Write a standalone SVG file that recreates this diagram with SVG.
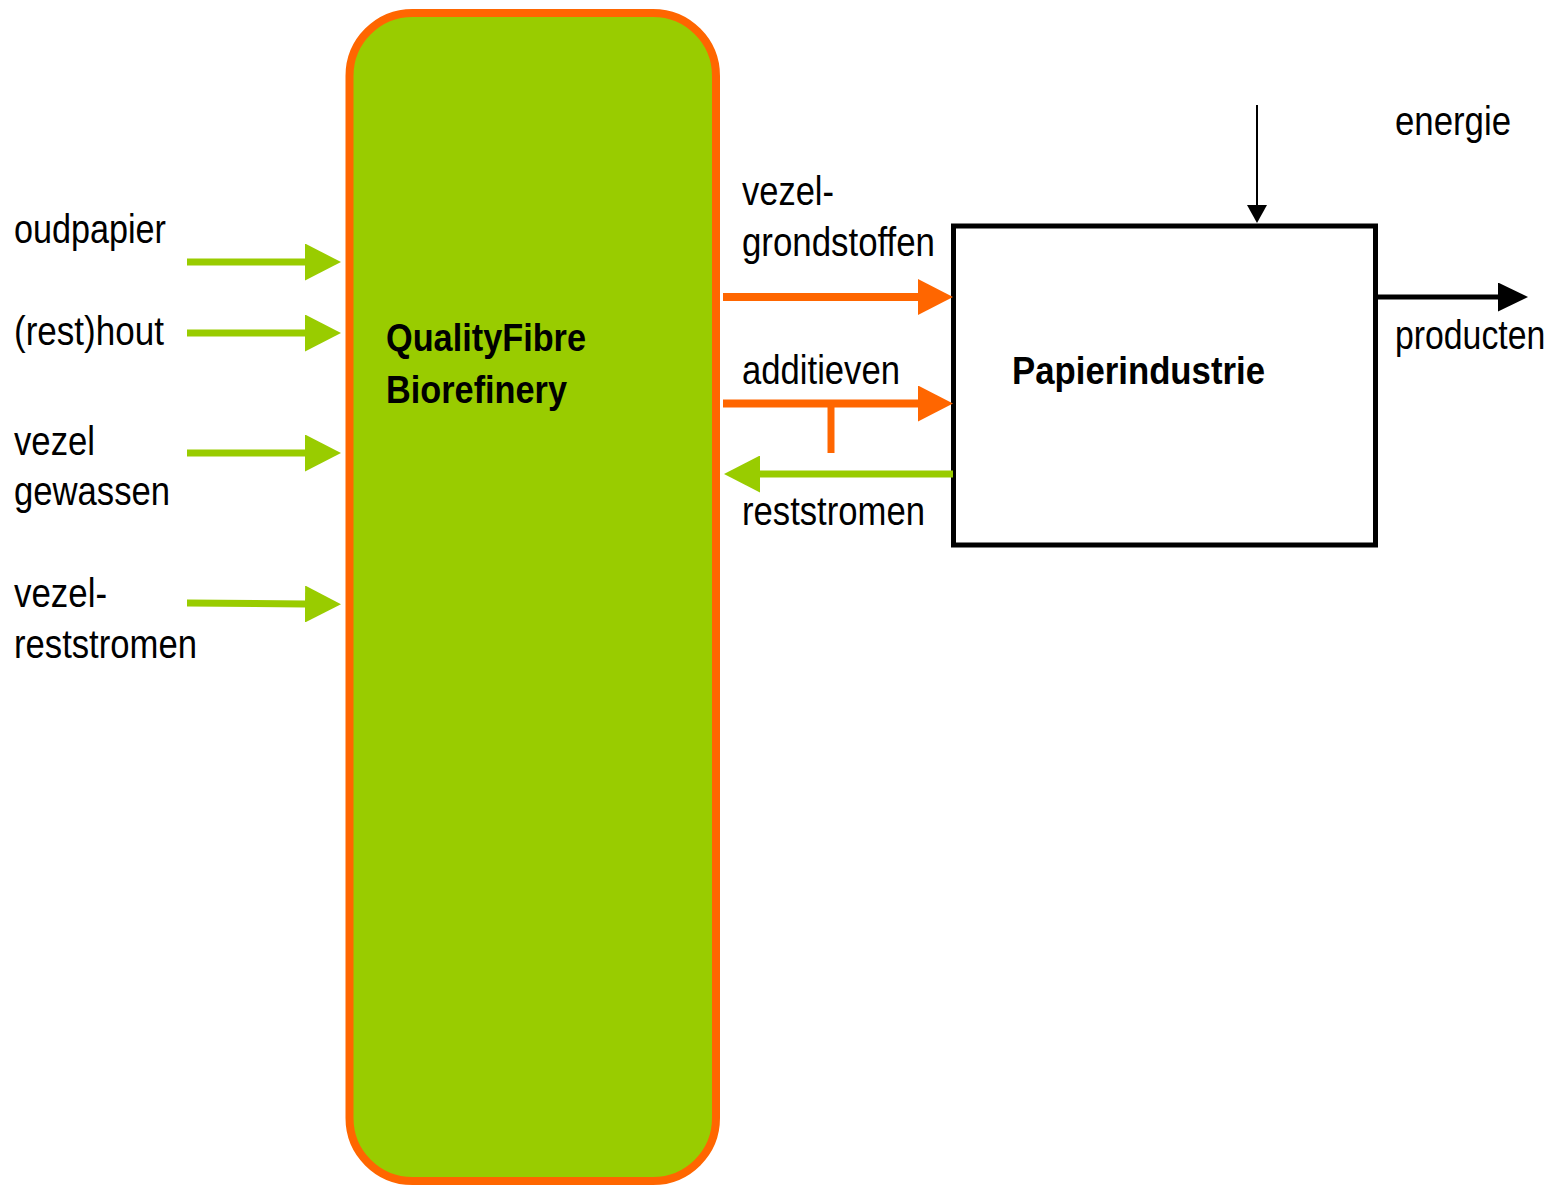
<svg xmlns="http://www.w3.org/2000/svg" width="1555" height="1185" viewBox="0 0 1555 1185">
<style>
  text { font-family: "Liberation Sans Narrow", "Liberation Sans", Arial, sans-serif; font-size: 40px; fill: #000; }
  .b { font-weight: bold; font-size: 39px; }
  .g { stroke: #99CC00; stroke-width: 7; fill: none; }
  .o { stroke: #FF6600; stroke-width: 8; fill: none; }
  .k { stroke: #000; fill: none; }
</style>
<defs>
  <marker id="hg" viewBox="0 -18.5 36 37" refX="0" refY="0" markerWidth="36" markerHeight="37" markerUnits="userSpaceOnUse" orient="auto">
    <path d="M0,-18.5 L36,0 L0,18.5 Z" fill="#99CC00"/>
  </marker>
  <marker id="ho" viewBox="0 -18 35 36" refX="0" refY="0" markerWidth="35" markerHeight="36" markerUnits="userSpaceOnUse" orient="auto">
    <path d="M0,-18 L35,0 L0,18 Z" fill="#FF6600"/>
  </marker>
  <marker id="hk" viewBox="0 -14.5 30 29" refX="0" refY="0" markerWidth="30" markerHeight="29" markerUnits="userSpaceOnUse" orient="auto">
    <path d="M0,-14.5 L30,0 L0,14.5 Z" fill="#000"/>
  </marker>
  <marker id="hks" viewBox="0 -10 18 20" refX="0" refY="0" markerWidth="18" markerHeight="20" markerUnits="userSpaceOnUse" orient="auto">
    <path d="M0,-10 L18,0 L0,10 Z" fill="#000"/>
  </marker>
</defs>

<g id="biorefinery">
  <rect x="349.5" y="13" width="366.5" height="1168" rx="63" ry="63" fill="#99CC00" stroke="#FF6600" stroke-width="8"/>
  <text class="b" x="386" y="351" textLength="200" lengthAdjust="spacingAndGlyphs">QualityFibre</text>
  <text class="b" x="386" y="403" textLength="181" lengthAdjust="spacingAndGlyphs">Biorefinery</text>
</g>

<g id="papierindustrie">
  <rect x="953.5" y="226" width="422" height="319" fill="#fff" stroke="#000" stroke-width="5"/>
  <text class="b" x="1012" y="384" textLength="253" lengthAdjust="spacingAndGlyphs">Papierindustrie</text>
</g>

<g id="labels">
  <text x="14" y="243" textLength="152" lengthAdjust="spacingAndGlyphs">oudpapier</text>
  <text x="14" y="345" textLength="150" lengthAdjust="spacingAndGlyphs">(rest)hout</text>
  <text x="14" y="455" textLength="81" lengthAdjust="spacingAndGlyphs">vezel</text>
  <text x="14" y="505" textLength="156" lengthAdjust="spacingAndGlyphs">gewassen</text>
  <text x="14" y="607" textLength="93" lengthAdjust="spacingAndGlyphs">vezel-</text>
  <text x="14" y="658" textLength="183" lengthAdjust="spacingAndGlyphs">reststromen</text>
  <text x="742" y="205" textLength="92" lengthAdjust="spacingAndGlyphs">vezel-</text>
  <text x="742" y="256" textLength="193" lengthAdjust="spacingAndGlyphs">grondstoffen</text>
  <text x="742" y="384" textLength="158" lengthAdjust="spacingAndGlyphs">additieven</text>
  <text x="742" y="525" textLength="183" lengthAdjust="spacingAndGlyphs">reststromen</text>
  <text x="1395" y="135" textLength="116" lengthAdjust="spacingAndGlyphs">energie</text>
  <text transform="translate(1395,349) scale(0.845,1)" x="0" y="0">producten</text>
</g>

<g id="connectors">
  <path class="g" d="M187,262 L305,262" marker-end="url(#hg)"/>
  <path class="g" d="M187,333 L305,333" marker-end="url(#hg)"/>
  <path class="g" d="M187,453 L305,453" marker-end="url(#hg)"/>
  <path class="g" d="M187,603 L305,604" marker-end="url(#hg)"/>
  <path class="o" d="M723,297 L918,297" marker-end="url(#ho)"/>
  <path class="o" d="M723,403.5 L918,403.5" marker-end="url(#ho)"/>
  <path class="o" d="M831,403.5 L831,453" style="stroke-width:7"/>
  <path class="g" d="M953,474 L760,474" marker-end="url(#hg)"/>
  <path class="k" d="M1257,105 L1257,205" stroke-width="2" marker-end="url(#hks)"/>
  <path class="k" d="M1378,297 L1498,297" stroke-width="5" marker-end="url(#hk)"/>
</g>
</svg>
